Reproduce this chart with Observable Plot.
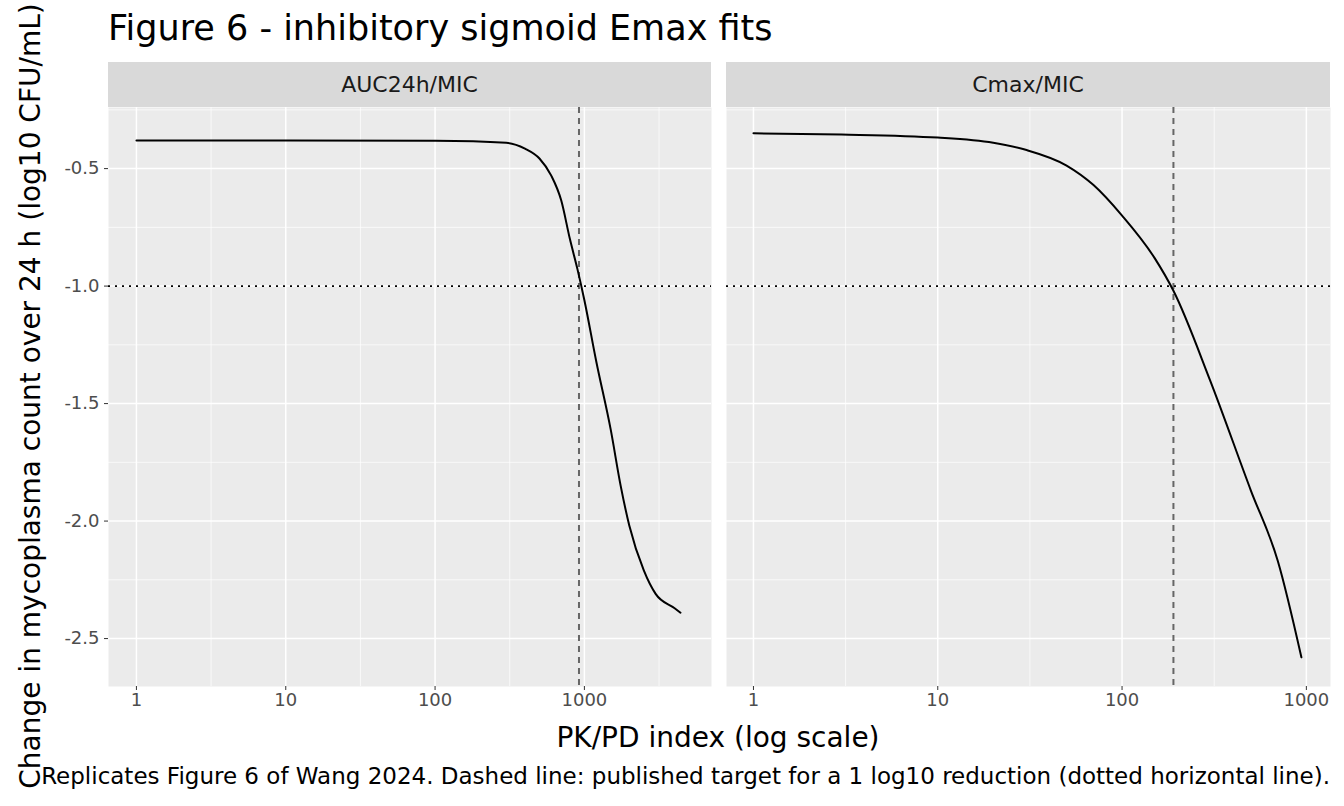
<!DOCTYPE html>
<html><head><meta charset="utf-8">
<script src="https://cdn.jsdelivr.net/npm/d3@7"></script>
<script src="https://cdn.jsdelivr.net/npm/@observablehq/plot@0.6"></script>
<style>
body{margin:0;background:#fff;font-family:"DejaVu Sans",sans-serif;}
#wrap{position:relative;width:1344px;height:806px;overflow:hidden;}
.abs{position:absolute;white-space:nowrap;}
.strip{position:absolute;top:62px;height:45px;background:#D9D9D9;color:#1A1A1A;font-size:22px;display:flex;align-items:center;justify-content:center;}
</style></head><body>
<div id="wrap">
<div class="abs" style="left:108px;top:8px;font-size:35px;color:#000">Figure 6 - inhibitory sigmoid Emax fits</div>
<div class="strip" style="left:108px;width:603px">AUC24h/MIC</div>
<div class="strip" style="left:726px;width:604px">Cmax/MIC</div>
<div id="p1" class="abs" style="left:0;top:107px"></div>
<div id="p2" class="abs" style="left:726px;top:107px"></div>
<div class="abs" style="left:0;width:1436px;text-align:center;top:721px;font-size:28px;color:#000">PK/PD index (log scale)</div>
<div class="abs" style="right:14px;top:763px;font-size:23px;color:#000">Replicates Figure 6 of Wang 2024. Dashed line: published target for a 1 log10 reduction (dotted horizontal line).</div>
<div class="abs" style="left:30px;top:396px;font-size:28px;color:#000;transform:translate(-50%,-50%) rotate(-90deg);">Change in mycoplasma count over 24 h (log10 CFU/mL)</div>
</div>
<script>
const aucX = [1, 10, 100, 300, 400, 500, 600, 700, 800, 900, 1000, 1200, 1500, 1750, 2000, 2500, 3000, 4000, 4400];
const aucY = [-0.38, -0.38, -0.382, -0.39, -0.415, -0.457, -0.53, -0.636, -0.80, -0.93, -1.06, -1.32, -1.61, -1.85, -2.02, -2.21, -2.31, -2.37, -2.39];
const cmaxX = [1, 3, 10, 20, 30, 50, 70, 100, 150, 190, 300, 500, 700, 940];
const cmaxY = [-0.35, -0.355, -0.368, -0.39, -0.42, -0.487, -0.57, -0.70, -0.88, -1.02, -1.40, -1.87, -2.17, -2.58];
const aucTarget = 920, cmaxTarget = 190, targetY = -1.0;
const xTicks = [1, 10, 100, 1000];
const yTicks = [-0.5, -1.0, -1.5, -2.0, -2.5];
const yMinor = [-0.25, -0.75, -1.25, -1.75, -2.25];

function panel(xs, ys, target, xdom, minorX, opts) {
  const data = xs.map((x, i) => ({x, y: ys[i]}));
  return Plot.plot({
    width: opts.width, height: 619,
    marginLeft: opts.ml, marginRight: opts.mr, marginTop: 0, marginBottom: 40,
    style: {fontFamily: "DejaVu Sans", fontSize: "18px", color: "#4D4D4D", background: "transparent", overflow: "visible"},
    x: {type: "log", domain: xdom},
    y: {domain: [-2.704, -0.24]},
    marks: [
      Plot.frame({fill: "#EBEBEB", stroke: null}),
      Plot.ruleY(yMinor, {stroke: "#fff", strokeWidth: 0.7}),
      Plot.ruleX(minorX, {stroke: "#fff", strokeWidth: 0.7}),
      Plot.ruleY(yTicks, {stroke: "#fff", strokeWidth: 1.5}),
      Plot.ruleX(xTicks, {stroke: "#fff", strokeWidth: 1.5}),
      Plot.axisX(xTicks, {tickSize: 4, tickPadding: 3, stroke: "#333", fill: "#4D4D4D", fontSize: 18, tickFormat: d => String(d), label: null}),
      opts.yaxis ? Plot.axisY(yTicks, {tickSize: 4, stroke: "#333", fill: "#4D4D4D", fontSize: 18, tickFormat: d => d.toFixed(1), label: null}) : Plot.axisY([], {label: null}),
      Plot.ruleX([target], {stroke: "#666", strokeWidth: 2, strokeDasharray: "6,5"}),
      Plot.ruleY([targetY], {stroke: "#000", strokeWidth: 1.8, strokeDasharray: "2,5"}),
      Plot.line(data, {x: "x", y: "y", stroke: "#000", strokeWidth: 2, curve: "monotone-x"})
    ]
  });
}
document.getElementById("p1").append(panel(aucX, aucY, aucTarget, [0.65, 7100], [3.162, 31.62, 316.2, 3162], {width: 711, ml: 108, mr: 0, yaxis: true}));
document.getElementById("p2").append(panel(cmaxX, cmaxY, cmaxTarget, [0.714, 1352], [3.162, 31.62, 316.2], {width: 618, ml: 0, mr: 14, yaxis: false}));
</script>
</body></html>
